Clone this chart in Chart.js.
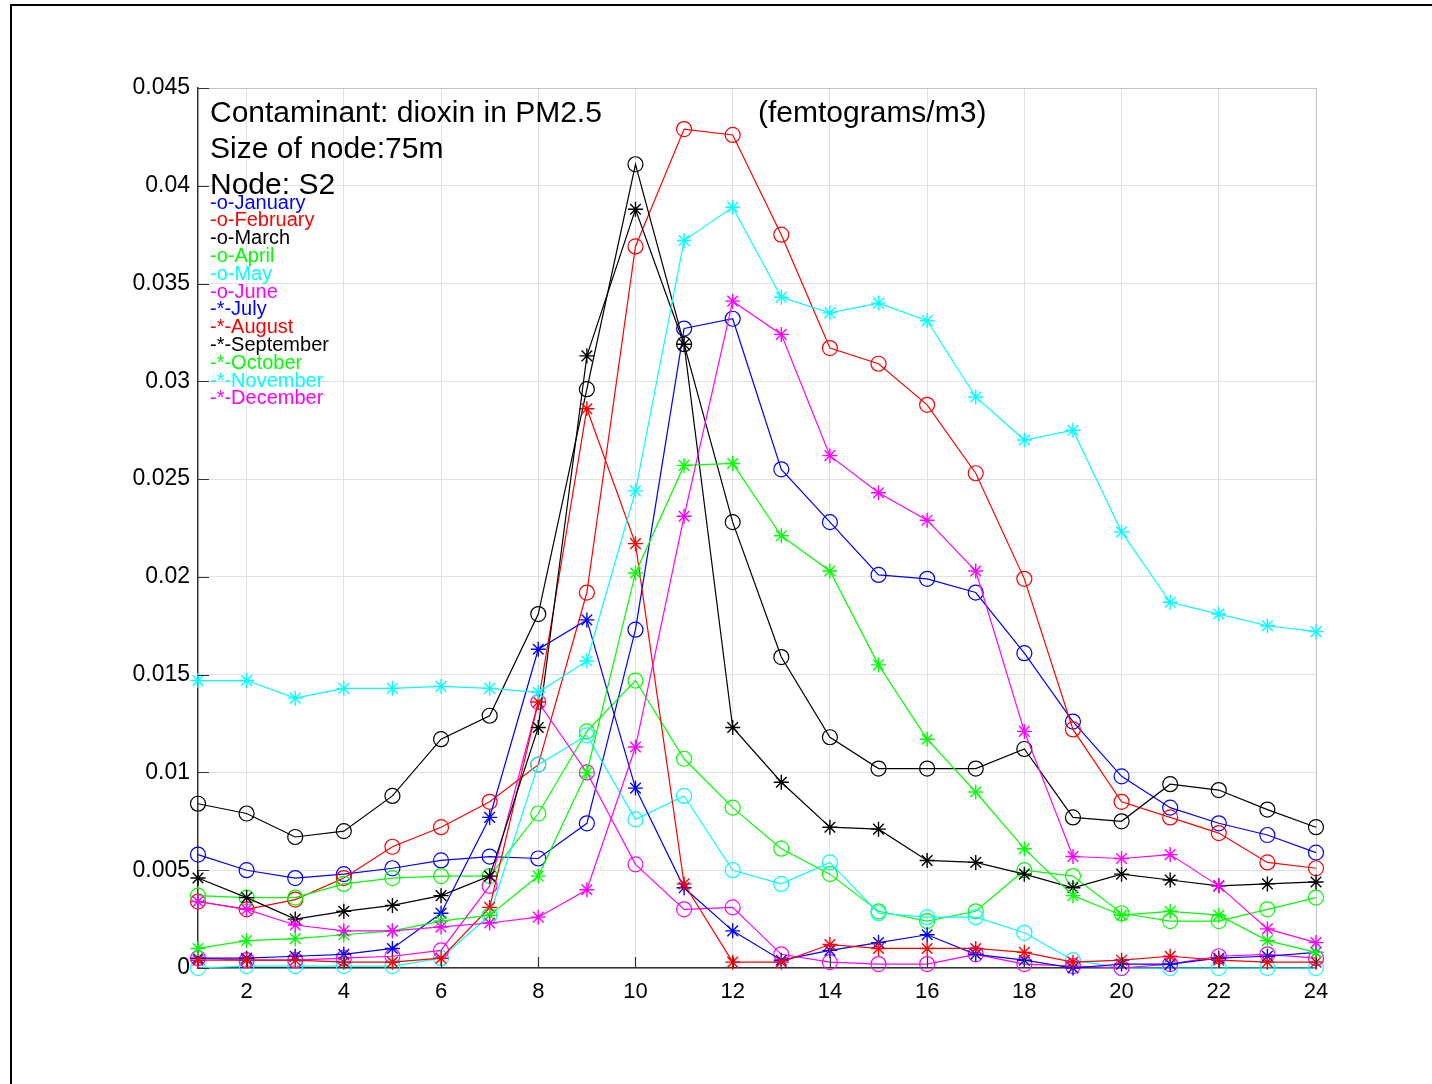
<!DOCTYPE html>
<html>
<head>
<meta charset="utf-8">
<script src="https://cdn.jsdelivr.net/npm/chart.js@4.4.1/dist/chart.umd.min.js"></script>
<style>
  html, body { margin: 0; padding: 0; background: #fff; }
  #wrap { position: relative; width: 1432px; height: 1084px; overflow: hidden; }
  #frame { position: absolute; left: 10px; top: 4px; width: 1440px; height: 1100px;
           border-top: 2px solid #000; border-left: 2px solid #000; }
  canvas { position: absolute; left: 0; top: 0; }
</style>
</head>
<body>
<div id="wrap">
  <div id="frame"></div>
  <canvas id="c" width="1432" height="1084"></canvas>
</div>
<script>
// Hours of the day
const hours = [1,2,3,4,5,6,7,8,9,10,11,12,13,14,15,16,17,18,19,20,21,22,23,24];

// Hourly dioxin concentration per month (femtograms/m3)
const january   = [0.0058,0.0050,0.0046,0.0048,0.0051,0.0055,0.0057,0.0056,0.0074,0.0173,0.0327,0.0332,0.0255,0.0228,0.0201,0.0199,0.0192,0.0161,0.0126,0.0098,0.0082,0.0074,0.0068,0.0059];
const february  = [0.0034,0.0030,0.0035,0.0046,0.0062,0.0072,0.0085,0.0104,0.0192,0.0369,0.0429,0.0426,0.0375,0.0317,0.0309,0.0288,0.0253,0.0199,0.0122,0.0085,0.0077,0.0069,0.0054,0.0051];
const march     = [0.0084,0.0079,0.0067,0.0070,0.0088,0.0117,0.0129,0.0181,0.0296,0.0411,0.0319,0.0228,0.0159,0.0118,0.0102,0.0102,0.0102,0.0112,0.0077,0.0075,0.0094,0.0091,0.0081,0.0072];
const april     = [0.0037,0.0036,0.0036,0.0043,0.0046,0.0047,0.0047,0.0079,0.0121,0.0147,0.0107,0.0082,0.0061,0.0048,0.0029,0.0024,0.0029,0.0050,0.0047,0.0028,0.0024,0.0024,0.0030,0.0036];
const may       = [0.0000,0.0001,0.0001,0.0001,0.0001,0.0005,0.0027,0.0104,0.0119,0.0076,0.0088,0.0050,0.0043,0.0054,0.0028,0.0026,0.0026,0.0018,0.0004,0.0000,0.0000,0.0000,0.0000,0.0000];
const june      = [0.0005,0.0004,0.0004,0.0005,0.0006,0.0009,0.0042,0.0136,0.0100,0.0053,0.0030,0.0031,0.0007,0.0003,0.0002,0.0002,0.0007,0.0002,0.0001,0.0000,0.0002,0.0006,0.0007,0.0005];
const july      = [0.0005,0.0005,0.0006,0.0007,0.0010,0.0028,0.0077,0.0163,0.0178,0.0092,0.0041,0.0019,0.0004,0.0009,0.0013,0.0017,0.0007,0.0004,0.0000,0.0002,0.0002,0.0005,0.0006,0.0008];
const august    = [0.0004,0.0004,0.0004,0.0003,0.0003,0.0005,0.0031,0.0136,0.0286,0.0217,0.0043,0.0003,0.0003,0.0012,0.0010,0.0010,0.0010,0.0008,0.0003,0.0004,0.0006,0.0004,0.0003,0.0003];
const september = [0.0046,0.0036,0.0025,0.0029,0.0032,0.0037,0.0047,0.0123,0.0313,0.0388,0.0319,0.0123,0.0095,0.0072,0.0071,0.0055,0.0054,0.0048,0.0041,0.0048,0.0045,0.0042,0.0043,0.0044];
const october   = [0.0010,0.0014,0.0015,0.0017,0.0019,0.0024,0.0027,0.0047,0.0100,0.0202,0.0257,0.0258,0.0221,0.0203,0.0155,0.0117,0.0090,0.0061,0.0037,0.0027,0.0029,0.0027,0.0014,0.0008];
const november  = [0.0147,0.0147,0.0138,0.0143,0.0143,0.0144,0.0143,0.0141,0.0157,0.0244,0.0372,0.0389,0.0343,0.0335,0.0340,0.0331,0.0292,0.0270,0.0275,0.0223,0.0187,0.0181,0.0175,0.0172];
const december  = [0.0034,0.0030,0.0022,0.0019,0.0019,0.0021,0.0023,0.0026,0.0040,0.0113,0.0231,0.0341,0.0324,0.0262,0.0243,0.0229,0.0203,0.0121,0.0057,0.0056,0.0058,0.0042,0.0020,0.0013];

const monthNames = ['January','February','March','April','May','June','July','August','September','October','November','December'];
const monthData  = [january,february,march,april,may,june,july,august,september,october,november,december];
const monthColors = ['#0000ff','#ff0000','#000000','#00ff00','#00ffff','#ff00ff',
                     '#0000ff','#ff0000','#000000','#00ff00','#00ffff','#ff00ff'];
const monthMarkers = ['o','o','o','o','o','o','*','*','*','*','*','*'];

// Axis ticks
const xTickValues = [2,4,6,8,10,12,14,16,18,20,22,24];
const yTickValues = [0,0.005,0.01,0.015,0.02,0.025,0.03,0.035,0.04,0.045];

// Annotation text
const titleLines = ['Contaminant: dioxin in PM2.5', 'Size of node:75m', 'Node: S2'];
const unitsText = '(femtograms/m3)';

const FONT = '"Liberation Sans", Arial, Helvetica, sans-serif';

const datasets = monthNames.map((name, i) => ({
  label: name,
  data: hours.map((h, k) => ({ x: h, y: monthData[i][k] })),
  borderColor: monthColors[i],
  backgroundColor: 'rgba(0,0,0,0)',
  pointBorderColor: monthColors[i],
  pointBackgroundColor: 'rgba(0,0,0,0)',
  pointStyle: monthMarkers[i] === 'o' ? 'circle' : 'star',
  pointRadius: monthMarkers[i] === 'o' ? 7.5 : 7.5,
  pointBorderWidth: monthMarkers[i] === 'o' ? 1.2 : 1.4,
  borderWidth: 1.2,
  tension: 0,
  fill: false,
  clip: false,
  order: 12 - i
}));

// Inward tick marks and text annotations
const decorations = {
  id: 'decorations',
  afterDatasetsDraw(chart) {
    const { ctx, chartArea, scales } = chart;
    ctx.save();
    ctx.strokeStyle = '#333';
    ctx.lineWidth = 1.2;
    ctx.beginPath();
    yTickValues.forEach(v => {
      const y = Math.round(scales.y.getPixelForValue(v)) + 0.5;
      ctx.moveTo(chartArea.left, y);
      ctx.lineTo(chartArea.left + 11, y);
    });
    xTickValues.forEach(v => {
      const x = Math.round(scales.x.getPixelForValue(v)) + 0.5;
      ctx.moveTo(x, chartArea.bottom);
      ctx.lineTo(x, chartArea.bottom - 11);
    });
    ctx.stroke();

    ctx.textBaseline = 'middle';
    ctx.textAlign = 'left';
    ctx.fillStyle = '#000';
    ctx.font = '30px ' + FONT;
    titleLines.forEach((t, i) => ctx.fillText(t, 210, 114 + i * 36));
    ctx.fillText(unitsText, 758, 114);

    ctx.font = '20px ' + FONT;
    monthNames.forEach((name, i) => {
      ctx.fillStyle = monthColors[i];
      ctx.fillText('-' + monthMarkers[i] + '-' + name, 210, 203 + i * 17.8);
    });
    ctx.restore();
  }
};

new Chart(document.getElementById('c'), {
  type: 'line',
  data: { datasets },
  options: {
    responsive: false,
    animation: false,
    devicePixelRatio: 1,
    layout: { padding: { left: 0, right: 116, top: 88, bottom: 76 } },
    plugins: { legend: { display: false }, tooltip: { enabled: false } },
    scales: {
      x: {
        type: 'linear',
        min: 1, max: 24,
        afterBuildTicks: s => { s.ticks = xTickValues.map(v => ({ value: v })); },
        afterFit: s => { s.height = 40; },
        grid: {
          drawTicks: false,
          color: c => (c.tick && c.tick.value === 24) ? '#c4c4c4' : '#e2e2e2',
          lineWidth: 1
        },
        border: { display: true, color: '#333', width: 1.5 },
        ticks: {
          padding: 11,
          color: '#000',
          font: { family: FONT, size: 22 },
          maxRotation: 0,
          callback: v => String(v)
        }
      },
      y: {
        type: 'linear',
        min: 0, max: 0.045,
        afterBuildTicks: s => { s.ticks = yTickValues.map(v => ({ value: v })); },
        afterFit: s => { s.width = 198; },
        grid: {
          drawTicks: false,
          color: c => (c.tick && c.tick.value === 0.045) ? '#c4c4c4' : '#e2e2e2',
          lineWidth: 1
        },
        border: { display: true, color: '#333', width: 1.5 },
        ticks: {
          padding: 8,
          color: '#000',
          font: { family: FONT, size: 23 },
          callback: v => String(Number(v.toFixed(3)))
        }
      }
    }
  },
  plugins: [decorations]
});
</script>
</body>
</html>
